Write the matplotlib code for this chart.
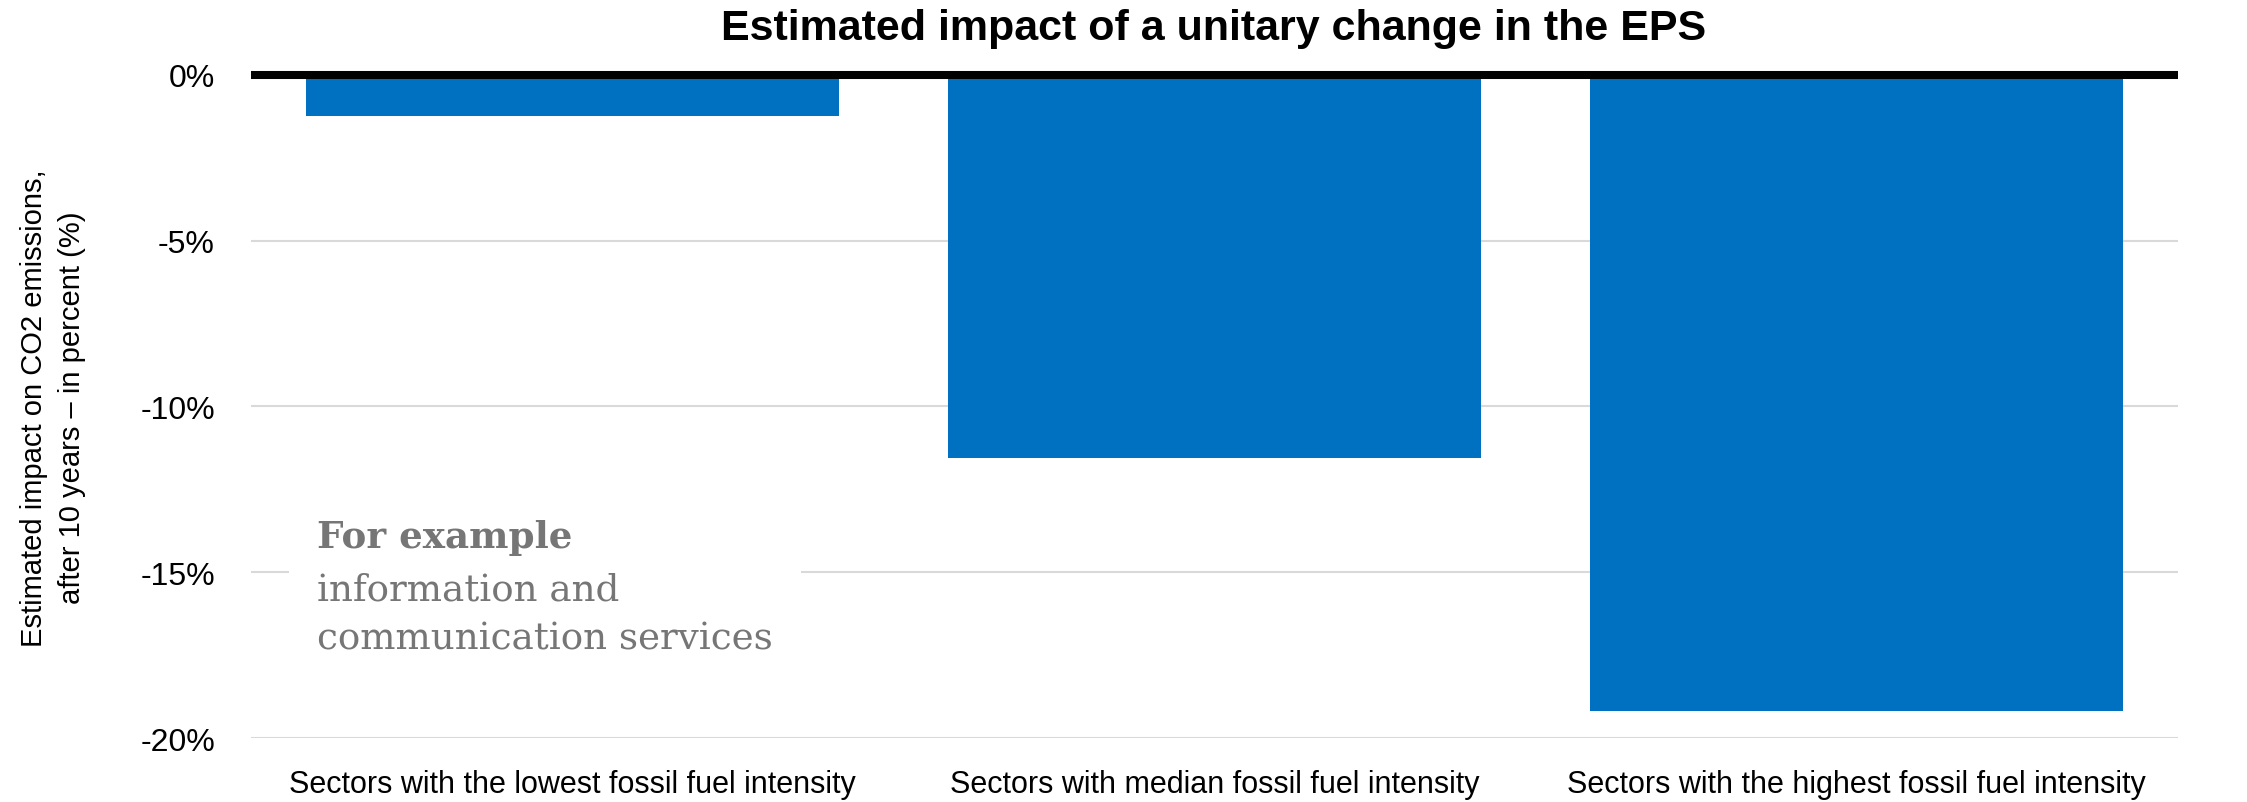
import matplotlib.pyplot as plt
from matplotlib.ticker import FuncFormatter

categories = [
    "Sectors with the lowest fossil fuel intensity",
    "Sectors with median fossil fuel intensity",
    "Sectors with the highest fossil fuel intensity",
]
impact = [-1.25, -11.55, -19.2]
yticks = [0, -5, -10, -15, -20]

bar_color = "#0070C0"
sans = ["Liberation Sans", "DejaVu Sans"]

fig = plt.figure(figsize=(22.47, 8.03), dpi=100)
ax = fig.add_axes([0.1117, 0.0797, 0.8576, 0.8257])

x = range(len(categories))
ax.bar(x, impact, width=0.83, color=bar_color, zorder=2)

ax.set_xlim(-0.5, 2.5)
ax.set_ylim(-20, 0)
ax.set_yticks(yticks)
ax.yaxis.set_major_formatter(FuncFormatter(lambda v, _: f"{v:.0f}%"))
ax.set_xticks(list(x))
ax.set_xticklabels(categories)

for lbl in ax.get_xticklabels():
    lbl.set_family(sans)
    lbl.set_fontsize(22)
for lbl in ax.get_yticklabels():
    lbl.set_family(sans)
    lbl.set_fontsize(23)

ax.tick_params(axis="both", length=0)
ax.tick_params(axis="y", pad=26)
ax.tick_params(axis="x", pad=22)

ax.grid(axis="y", color="#d9d9d9", linewidth=1.5, zorder=0)
for s in ax.spines.values():
    s.set_visible(False)
ax.axhline(0, color="black", linewidth=5.8, zorder=3, clip_on=False,
           solid_capstyle="butt")

fig.text(0.540, 0.964, "Estimated impact of a unitary change in the EPS",
         ha="center", va="center", fontsize=31, fontweight="bold", family=sans)

fig.text(0.0236, 0.492,
         "Estimated impact on CO2 emissions,\nafter 10 years \u2013 in percent (%)",
         rotation=90, ha="center", va="center", multialignment="center",
         fontsize=21, linespacing=1.45, family=sans)

# note over the lowest-intensity column, boxed in white to break the gridline
ax.text(-0.397, -16.26, "information and\ncommunication services", ha="left",
        va="center", fontsize=26.8, color="#767676", family="DejaVu Serif",
        linespacing=1.45, zorder=4,
        bbox=dict(facecolor="white", edgecolor="none", pad=20))
ax.text(-0.397, -13.95, "For example", ha="left", va="center", fontsize=26.8,
        fontweight="bold", color="#767676", family="DejaVu Serif", zorder=5)

fig.savefig("out.png", dpi=100)
